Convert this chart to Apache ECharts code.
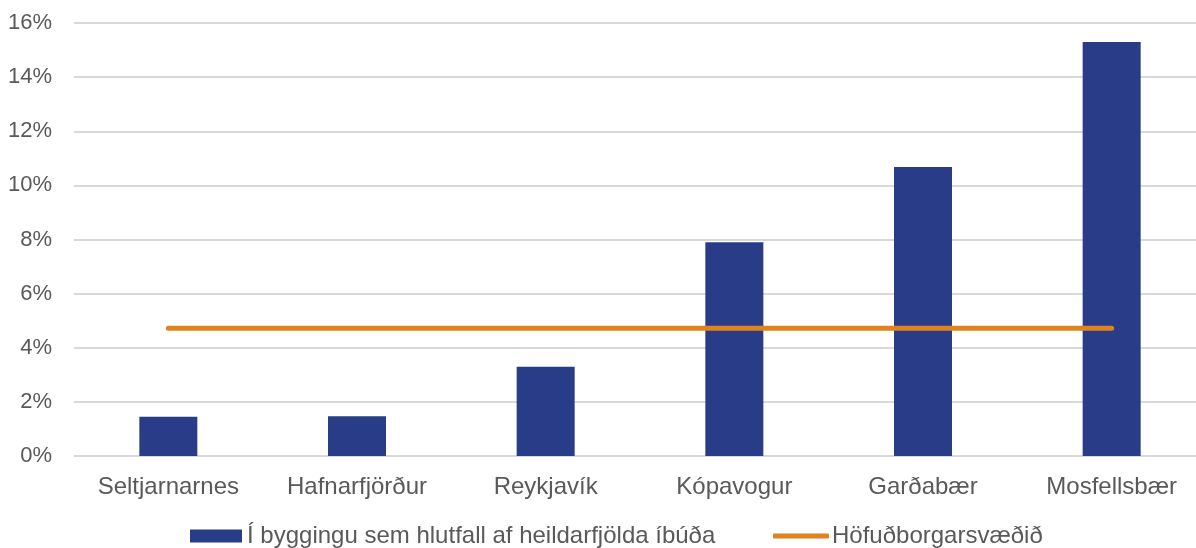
<!DOCTYPE html>
<html>
<head>
<meta charset="utf-8">
<script src="https://cdn.jsdelivr.net/npm/echarts@6/dist/echarts.min.js"></script>
<style>
  html, body { margin: 0; padding: 0; background: #ffffff; }
  #chart { width: 1196px; height: 548px; }
</style>
</head>
<body>
<div id="chart"></div>
<script>
// Municipalities in the capital region
const categories = ['Seltjarnarnes', 'Hafnarfjörður', 'Reykjavík', 'Kópavogur', 'Garðabær', 'Mosfellsbær'];
// Share of dwellings under construction, % of total dwellings
const underConstruction = [1.45, 1.47, 3.3, 7.9, 10.68, 15.3];
// Capital region average, %
const capitalRegion = [4.72, 4.72, 4.72, 4.72, 4.72, 4.72];

const barName = 'Í byggingu sem hlutfall af heildarfjölda íbúða';
const lineName = 'Höfuðborgarsvæðið';

const font = '"Liberation Sans", Arial, sans-serif';
const textColor = '#595959';
const barColor = '#283C87';
const lineColor = '#E0821E';

const legendText = { fontFamily: font, fontSize: 24, color: textColor, lineHeight: 24 };

const chart = echarts.init(document.getElementById('chart'), null, { renderer: 'canvas' });
chart.setOption({
  animation: false,
  backgroundColor: '#ffffff',
  // the plot area runs slightly past the right edge of the canvas
  grid: { left: 74, top: 23, bottom: 92, width: 1132, containLabel: false, outerBoundsMode: 'none' },
  legend: [
    {
      top: 524,
      left: 190,
      padding: 0,
      itemWidth: 52,
      itemHeight: 13,
      textStyle: legendText,
      data: [{ name: barName, icon: 'rect', itemStyle: { color: barColor } }]
    },
    {
      top: 524,
      left: 773,
      padding: 0,
      itemWidth: 56,
      itemHeight: 5,
      textStyle: Object.assign({}, legendText, { padding: [0, 0, 0, -2] }),
      data: [{ name: lineName, icon: 'roundRect', itemStyle: { color: lineColor, borderWidth: 0 } }]
    }
  ],
  xAxis: {
    type: 'category',
    data: categories,
    axisLine: { show: false },
    axisTick: { show: false },
    axisLabel: { fontFamily: font, fontSize: 24, color: textColor, margin: 19 }
  },
  yAxis: {
    type: 'value',
    min: 0,
    max: 16,
    interval: 2,
    axisLine: { show: false },
    axisTick: { show: false },
    splitLine: { lineStyle: { color: '#D9D9D9', width: 2 } },
    axisLabel: {
      fontFamily: font, fontSize: 22, color: textColor, margin: 22,
      formatter: v => v + '%'
    }
  },
  series: [
    {
      name: barName,
      type: 'bar',
      data: underConstruction,
      barWidth: 58,
      itemStyle: { color: barColor }
    },
    {
      name: lineName,
      type: 'line',
      data: capitalRegion,
      symbol: 'none',
      lineStyle: { color: lineColor, width: 5, cap: 'round' },
      itemStyle: { color: lineColor }
    }
  ]
});
</script>
</body>
</html>
